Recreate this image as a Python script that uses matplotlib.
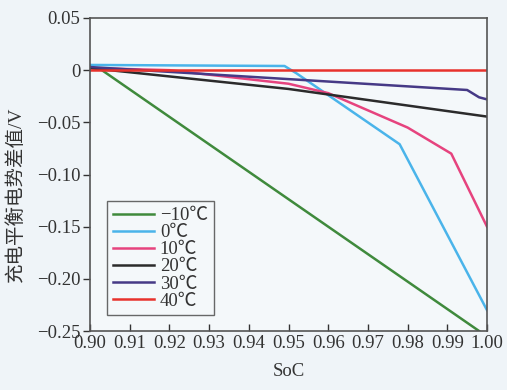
import matplotlib.pyplot as plt

plt.rcParams['font.family'] = ['Liberation Serif', 'Noto Sans CJK SC']
plt.rcParams['axes.unicode_minus'] = True

labels = ['\u221210\u2103', '0\u2103', '10\u2103', '20\u2103', '30\u2103', '40\u2103']
colors = ['#3f8a3c', '#4ab4ea', '#e6437e', '#2b2b2b', '#463a86', '#e8322c']

soc_m10 = [0.90, 0.903, 0.998]
dv_m10 = [0.003, 0.0, -0.25]

soc_0 = [0.90, 0.949, 0.952, 0.978, 1.00]
dv_0 = [0.005, 0.004, -0.003, -0.071, -0.23]

soc_10 = [0.90, 0.92, 0.95, 0.96, 0.98, 0.991, 1.00]
dv_10 = [0.002, 0.0, -0.013, -0.022, -0.055, -0.080, -0.15]

soc_20 = [0.90, 0.95, 1.00]
dv_20 = [0.002, -0.018, -0.0445]

soc_30 = [0.90, 0.995, 0.998, 1.00]
dv_30 = [0.003, -0.019, -0.026, -0.028]

soc_40 = [0.90, 1.00]
dv_40 = [0.0, 0.0]

series = [(soc_m10, dv_m10), (soc_0, dv_0), (soc_10, dv_10),
          (soc_20, dv_20), (soc_30, dv_30), (soc_40, dv_40)]

fig = plt.figure(figsize=(5.07, 3.9), dpi=100, facecolor='#eff4f8')
ax = fig.add_axes([90 / 507, 1 - 331 / 390, 397 / 507, 313 / 390])
ax.set_facecolor('#f4f8fa')

for (x, y), c, lab in zip(series, colors, labels):
    ax.plot(x, y, color=c, lw=1.8, label=lab)

ax.set_xlim(0.90, 1.00)
ax.set_ylim(-0.25, 0.05)
ax.set_xticks([0.90 + 0.01 * i for i in range(11)])
ax.set_xticklabels(['%.2f' % (0.90 + 0.01 * i) for i in range(11)])
ax.set_yticks([0.05, 0, -0.05, -0.10, -0.15, -0.20, -0.25])
ax.set_yticklabels(['0.05', '0', '\u22120.05', '\u22120.10', '\u22120.15', '\u22120.20', '\u22120.25'])
ax.tick_params(axis='x', direction='in', length=5, width=1, labelsize=13.5, colors='#333333', pad=3)
ax.tick_params(axis='y', direction='out', length=5, width=1, labelsize=13.5, colors='#333333', pad=2)
for s in ax.spines.values():
    s.set_color('#555555')
    s.set_linewidth(1.2)

ax.set_xlabel('SoC', fontsize=13.5, color='#333333', labelpad=8)
# y label placed by hand, left of the tick labels
fig.text(16 / 507, 1 - 194 / 390, '充电平衡电势差值/V', rotation=90,
         ha='center', va='center', fontsize=14, color='#333333')

leg = ax.legend(loc='lower left', bbox_to_anchor=(0.02, 0.02), fontsize=13.5,
                handlelength=2.2, handletextpad=0.3, labelspacing=0.0,
                borderpad=0.3, frameon=True, fancybox=False)
leg.get_frame().set_edgecolor('#444444')
leg.get_frame().set_facecolor('#f4f8fa')
leg.get_frame().set_linewidth(1.0)
for t in leg.get_texts():
    t.set_color('#333333')

fig.savefig('out.png', dpi=100, facecolor=fig.get_facecolor())
